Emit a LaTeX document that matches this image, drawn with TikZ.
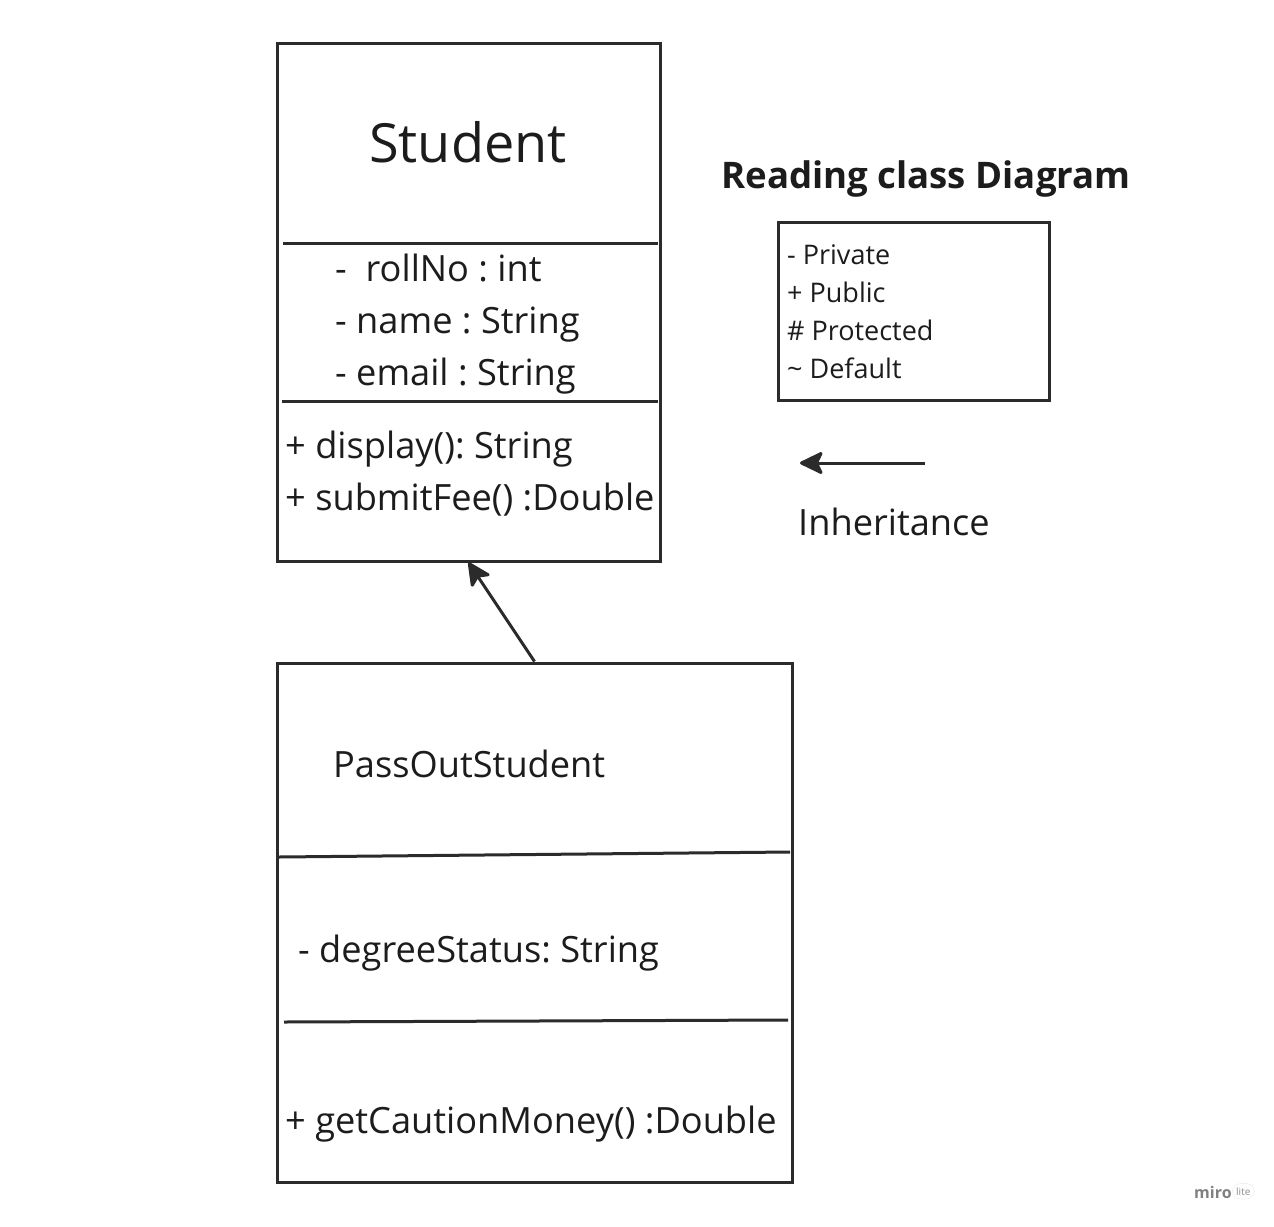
\documentclass[tikz,border=0pt]{standalone}
\usepackage{fontspec}
\setmainfont{Open Sans}
\frenchspacing
\usetikzlibrary{arrows.meta}
\definecolor{ink}{HTML}{2B2B2B}
\definecolor{txt}{HTML}{1C1C1C}
\tikzset{
  classbox/.style={draw=ink,line width=3pt,inner sep=0pt},
  divider/.style={draw=ink,line width=3pt},
  member/.style={anchor=base west,inner sep=0pt,text=txt,font=\fontsize{36.2}{40}\selectfont},
  legendtext/.style={anchor=base west,inner sep=0pt,text=txt,font=\fontsize{27}{31}\selectfont},
  inherit/.style={draw=ink,line width=3pt,-{Stealth[length=26pt,width=25pt,inset=6pt,round]}}
}
\begin{document}
\begin{tikzpicture}[x=1pt,y=-1pt]
    \useasboundingbox[fill=white] (0,0) rectangle (1274,1226);
    % class Student
    \node[classbox,minimum width=383pt,minimum height=518pt] (student) at (468.5,302) {};
    \node[anchor=base,inner sep=0pt,text=txt,font=\fontsize{54}{58}\selectfont] (studentname) at (468,162) {Student};
    \draw[divider] (283,243) -- (658,243);
    \node[member] (rollno) at (335,281) {-\ \ rollNo : int};
    \node[member] (name) at (335,333) {- name : String};
    \node[member] (email) at (335,385) {- email : String};
    \draw[divider] (282,401) -- (658,401);
    \node[member] (display) at (285,458) {+ display(): String};
    \node[member] (submitfee) at (285,510) {+ submitFee() :Double};
    % class PassOutStudent
    \node[classbox,minimum width=515pt,minimum height=519pt] (passout) at (534.5,922.5) {};
    \node[member] (passoutname) at (333,777) {PassOutStudent};
    \draw[divider] (279,857) -- (790,852);
    \node[member] (degree) at (298,962) {- degreeStatus: String};
    \draw[divider] (284,1022) -- (788,1020);
    \node[member] (caution) at (285,1133) {+ getCautionMoney() :Double};
    % inheritance
    \draw[inherit] (passout.north) -- (student.south);
    % legend
    \node[anchor=base,inner sep=0pt,text=txt,font=\fontsize{36.6}{40}\selectfont\bfseries] (heading) at (926,188) {Reading class Diagram};
    \node[classbox,minimum width=271pt,minimum height=178pt] (legend) at (913.5,311) {};
    \foreach \txt [count=\i] in {- Private,+ Public,\# Protected,\textasciitilde\ Default}
        \node[legendtext] (leg\i) at (787,226+38*\i) {\txt};
    \coordinate (arrowstart) at (925,463);
    \coordinate (arrowend) at (800,463);
    \draw[inherit] (arrowstart) -- (arrowend);
    \node[member] (inheritance) at (798,535) {Inheritance};
    % watermark
    \node[anchor=base west,inner sep=0pt,text=black!50,font=\fontsize{16}{18}\selectfont\bfseries] (miro) at (1194,1198) {miro};
    \node[anchor=base west,rounded corners=9pt,fill=white,draw=black!8,inner sep=4pt,text=black!45,font=\fontsize{10}{12}\selectfont] (lite) at (1232,1195) {lite};
\end{tikzpicture}
\end{document}
